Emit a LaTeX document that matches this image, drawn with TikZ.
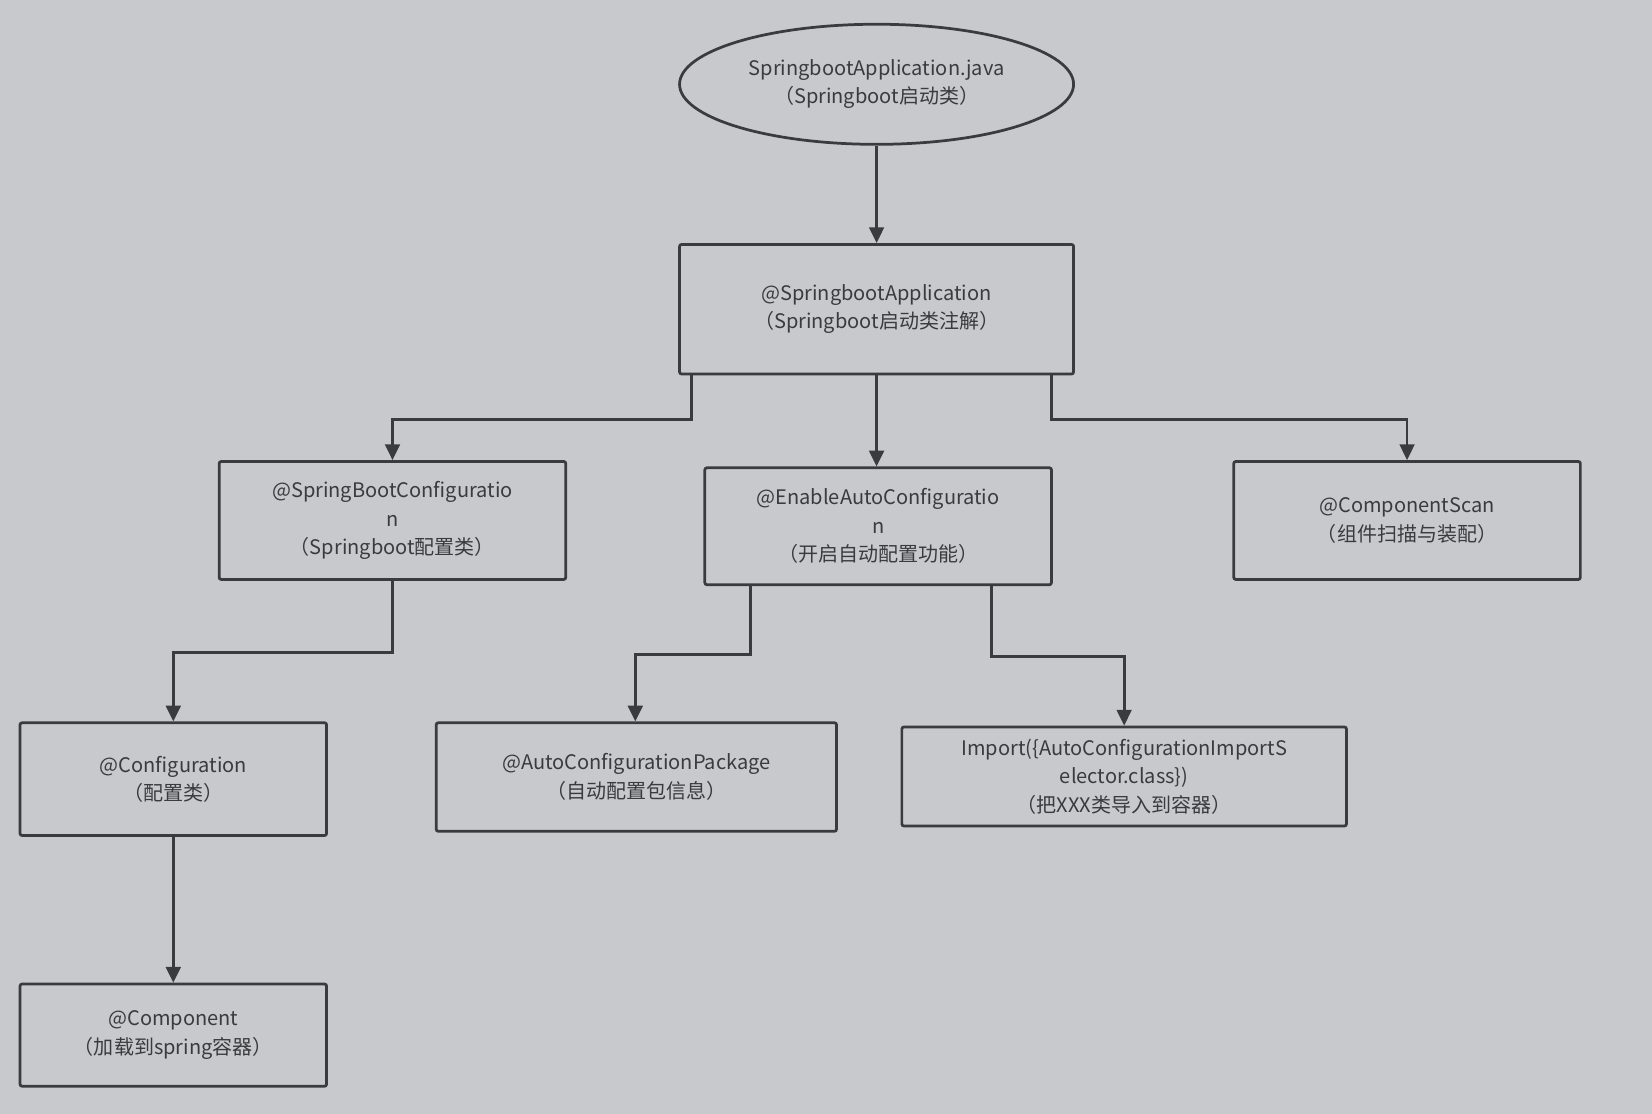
\documentclass[tikz,border=0pt]{standalone}
\usepackage{fontspec}
\setmainfont{Noto Sans CJK SC}
\usetikzlibrary{arrows.meta,shapes.geometric,calc}
\definecolor{bg}{HTML}{C8C9CD}
\definecolor{ln}{HTML}{3A3B3E}
\begin{document}
\begin{tikzpicture}[x=1pt,y=-1pt,
  box/.style={draw=ln,line width=2.6pt,fill=bg,rounded corners=2pt,align=center,text=ln,font=\fontsize{19}{27}\selectfont,inner sep=0pt},
  con/.style={draw=ln,line width=2.6pt,-{Triangle[length=15pt,width=14pt]}}]
\fill[bg] (0,0) rectangle (1568,1057);
\useasboundingbox (0,0) rectangle (1568,1057);
\node[box,ellipse,minimum width=374pt,minimum height=114pt] (app) at (832,80) {SpringbootApplication.java\\（Springboot启动类）};
\node[box,minimum width=374pt,minimum height=123pt] (sa) at (832,293.5) {@SpringbootApplication\\（Springboot启动类注解）};
\node[box,minimum width=329pt,minimum height=112pt] (sbc) at (372.5,494) {@SpringBootConfiguratio\\n\\（Springboot配置类）};
\node[box,minimum width=329pt,minimum height=111pt] (eac) at (833.5,499.5) {@EnableAutoConfiguratio\\n\\（开启自动配置功能）};
\node[box,minimum width=329pt,minimum height=112pt] (cs) at (1335.5,494) {@ComponentScan\\（组件扫描与装配）};
\node[box,minimum width=291pt,minimum height=107pt] (conf) at (164.5,739.5) {@Configuration\\（配置类）};
\node[box,minimum width=380pt,minimum height=103pt] (pkg) at (604,737.5) {@AutoConfigurationPackage\\（自动配置包信息）};
\node[box,minimum width=422pt,minimum height=94pt] (imp) at (1067,737) {Import(\{AutoConfigurationImportS\\elector.class\})\\（把XXX类导入到容器）};
\node[box,minimum width=291pt,minimum height=97pt] (comp) at (164.5,982.5) {@Component\\（加载到spring容器）};
\draw[con] (app) -- (sa);
\draw[con] ([xshift=-176pt]sa.south) -- ++(0,42) -| (sbc.north);
\draw[con] (sa.south) -- (sa.south |- eac.north);
\draw[con] ([xshift=166pt]sa.south) -- ++(0,42) -| (cs.north);
\draw[con] (sbc.south) -- ++(0,68) -| (conf.north);
\draw[con] ([xshift=-121.5pt]eac.south) -- ++(0,65) -| ([xshift=-1pt]pkg.north);
\draw[con] ([xshift=107.5pt]eac.south) -- ++(0,67) -| (imp.north);
\draw[con] (conf) -- (comp);
\end{tikzpicture}
\end{document}
